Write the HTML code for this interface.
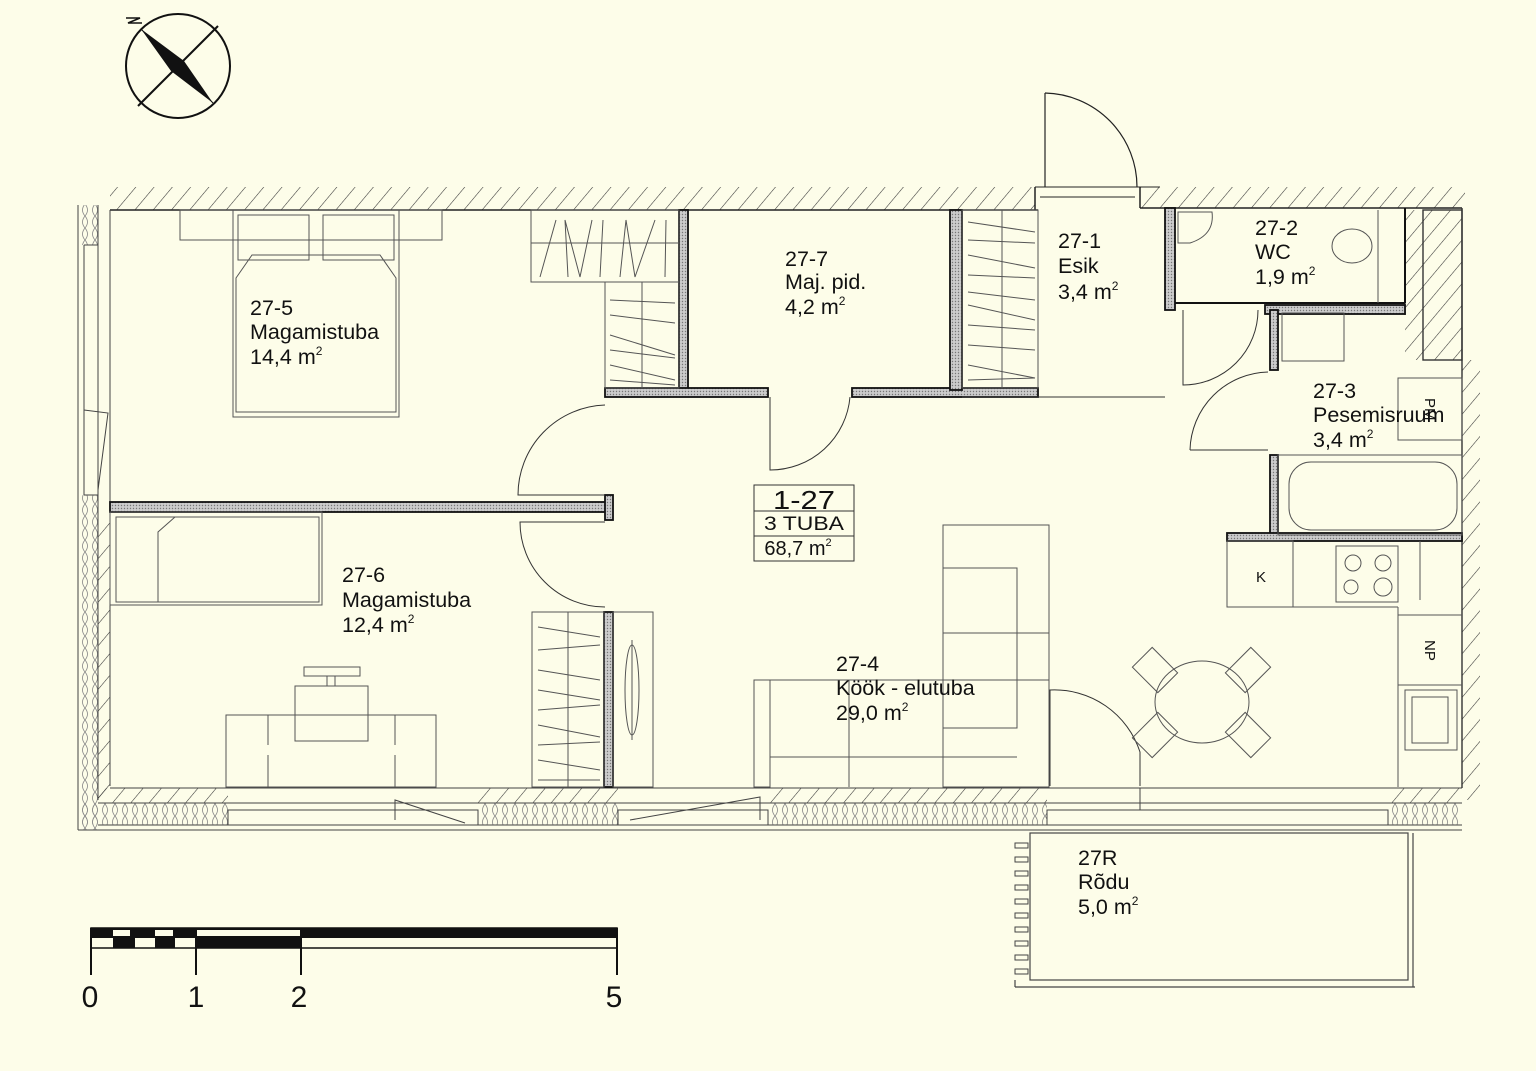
<!DOCTYPE html>
<html><head><meta charset="utf-8"><style>
html,body{margin:0;padding:0;background:#fdfde9;}
svg{display:block}
text{font-family:"Liberation Sans",sans-serif;fill:#111;}
</style></head><body>
<svg width="1536" height="1071" viewBox="0 0 1536 1071" xmlns="http://www.w3.org/2000/svg">
<defs>
<pattern id="h" width="14" height="14" patternUnits="userSpaceOnUse" patternTransform="rotate(40)">
<line x1="0" y1="0" x2="0" y2="14" stroke="#333" stroke-width="1.1"/></pattern>
<pattern id="ins" width="10" height="12" patternUnits="userSpaceOnUse">
<path d="M5 0 Q0 6 5 12 Q10 6 5 0" fill="none" stroke="#888" stroke-width="0.8"/></pattern>
<pattern id="dot" width="3" height="3" patternUnits="userSpaceOnUse"><rect width="3" height="3" fill="#ccc"/><circle cx="1.5" cy="1.5" r="0.7" fill="#777"/></pattern>
</defs>
<rect width="1536" height="1071" fill="#fdfde9"/>

<!-- compass -->
<g stroke="#111" fill="none" stroke-width="2">
<circle cx="178" cy="66" r="52"/>
<line x1="138" y1="106" x2="218" y2="26"/>
<line x1="141" y1="29" x2="213" y2="103" stroke-width="1"/>
</g>
<path d="M141 29 L184 61 L213 103 L171 71 Z" fill="#111"/>
<path d="M126 18 L140 18 L128 23 L142 23" fill="none" stroke="#111" stroke-width="1.5"/>

<!-- top wall -->
<rect x="110" y="187" width="925" height="23" fill="url(#h)"/>
<rect x="1140" y="187" width="325" height="21" fill="url(#h)"/>
<g stroke="#222" stroke-width="1.5" fill="none">
<line x1="110" y1="210" x2="1038" y2="210"/>
<line x1="1140" y1="208" x2="1405" y2="208"/>
<line x1="1405" y1="208" x2="1462" y2="208"/>
<line x1="1035" y1="187" x2="1035" y2="210"/>
<line x1="1140" y1="187" x2="1140" y2="208"/>
<line x1="1035" y1="187" x2="1160" y2="187" stroke-width="1"/>
<line x1="1040" y1="197" x2="1135" y2="197" stroke-width="1"/>
</g>
<g stroke="#222" fill="none" stroke-width="1.2">
<line x1="1045" y1="93" x2="1045" y2="187"/>
<path d="M1045 93 A94 94 0 0 1 1137 187"/>
</g>

<!-- left wall -->
<rect x="80" y="205" width="18" height="40" fill="url(#ins)"/>
<rect x="80" y="495" width="18" height="335" fill="url(#ins)"/>
<rect x="98" y="520" width="12" height="280" fill="url(#h)"/>
<g stroke="#444" stroke-width="1" fill="none">
<line x1="78" y1="205" x2="78" y2="830"/>
<line x1="98" y1="205" x2="98" y2="800"/>
<line x1="110" y1="210" x2="110" y2="786"/>
<line x1="84" y1="245" x2="84" y2="495"/>
<line x1="84" y1="245" x2="98" y2="245"/>
<line x1="84" y1="495" x2="98" y2="495"/>
<path d="M84 410 L108 413 L98 490"/>
</g>

<!-- bottom wall -->
<rect x="98" y="788" width="1364" height="15" fill="url(#h)"/>
<rect x="80" y="803" width="1382" height="22" fill="url(#ins)"/>
<rect x="228" y="788" width="250" height="40" fill="#fdfde9"/>
<rect x="618" y="788" width="150" height="40" fill="#fdfde9"/>
<rect x="1047" y="788" width="341" height="40" fill="#fdfde9"/>
<g stroke="#444" stroke-width="1" fill="none">
<line x1="110" y1="788" x2="1462" y2="788"/>
<line x1="78" y1="830" x2="1462" y2="830"/>
<line x1="98" y1="803" x2="1462" y2="803"/>
<line x1="98" y1="825" x2="1462" y2="825"/>
<rect x="228" y="810" width="250" height="15"/>
<rect x="618" y="810" width="150" height="15"/>
<rect x="1047" y="810" width="341" height="15"/>
<path d="M395 820 L395 800 L465 823"/>
<path d="M630 820 L760 797 L760 820"/>
<line x1="1140" y1="788" x2="1140" y2="810"/>
</g>

<!-- right wall -->
<rect x="1405" y="210" width="57" height="150" fill="url(#h)"/>
<rect x="1462" y="360" width="18" height="440" fill="url(#h)"/>
<g stroke="#333" stroke-width="1.4" fill="none">
<line x1="1462" y1="208" x2="1462" y2="788"/>
<rect x="1423" y="210" width="39" height="150"/>
<line x1="1405" y1="208" x2="1405" y2="315"/>
</g>

<!-- interior walls -->
<g stroke="#111" stroke-width="1.8">
<rect x="679" y="210" width="9" height="180" fill="url(#dot)"/>
<rect x="605" y="388" width="163" height="9" fill="url(#dot)"/>
<rect x="852" y="388" width="186" height="9" fill="url(#dot)"/>
<rect x="950" y="210" width="12" height="180" fill="url(#dot)"/>
<rect x="110" y="502" width="502" height="10" fill="url(#dot)"/>
<rect x="605" y="495" width="8" height="25" fill="url(#dot)"/>
<rect x="604" y="612" width="9" height="175" fill="url(#dot)"/>
<rect x="1165" y="208" width="10" height="102" fill="url(#dot)"/>
<rect x="1265" y="305" width="140" height="9" fill="url(#dot)"/>
<rect x="1270" y="310" width="8" height="60" fill="url(#dot)"/>
<rect x="1270" y="455" width="8" height="82" fill="url(#dot)"/>
<rect x="1227" y="533" width="235" height="8" fill="url(#dot)"/>
</g>
<g stroke="#111" stroke-width="2" fill="none">
<line x1="1175" y1="303" x2="1405" y2="303"/>
<line x1="1405" y1="208" x2="1405" y2="303"/>
</g>

<!-- doors interior -->
<g stroke="#333" stroke-width="1" fill="none">
<path d="M605 405 A90 90 0 0 0 518 495 L605 495"/>
<path d="M605 522 L520 522 A85 85 0 0 0 605 607"/>
<path d="M770 397 L770 470 A80 80 0 0 0 850 397"/>
<path d="M1183 310 L1183 385 A75 75 0 0 0 1258 310"/>
<path d="M1190 450 A80 80 0 0 1 1268 372"/>
<line x1="1190" y1="450" x2="1268" y2="450"/>
<line x1="962" y1="397" x2="1165" y2="397"/>
<path d="M1140 786 L1140 752 A90 90 0 0 0 1050 690 L1050 786"/>
</g>

<!-- furniture -->
<g stroke="#555" stroke-width="1" fill="none">
<rect x="180" y="210" width="262" height="30"/>
<rect x="233" y="210" width="166" height="207"/>
<rect x="238" y="215" width="71" height="45"/>
<rect x="323" y="215" width="71" height="45"/>
<path d="M236 278 L252 255 L380 255 L396 278 L396 412 L236 412 Z"/>
<rect x="531" y="210" width="148" height="72"/>
<line x1="531" y1="243" x2="679" y2="243"/>
<path d="M540 277 L556 220 M568 277 L565 220 L580 277 L592 220 M600 277 L603 220 M620 277 L626 220 L635 277 L655 220 M665 277 L666 220"/>
<rect x="605" y="282" width="74" height="106"/>
<line x1="642" y1="282" x2="642" y2="388"/>
<path d="M610 300 L675 303 M610 315 L675 323 M610 335 L675 355 M610 350 L675 358 M610 365 L675 380 M610 380 L675 385"/>
<rect x="962" y="210" width="76" height="178"/>
<line x1="1002" y1="210" x2="1002" y2="388"/>
<path d="M968 222 L1035 232 M968 240 L1035 243 M968 255 L1035 268 M968 275 L1035 278 M968 292 L1035 300 M968 305 L1035 320 M968 325 L1035 330 M968 345 L1035 350 M968 365 L1035 378 M968 380 L1035 378"/>
<rect x="110" y="512" width="212" height="93"/>
<rect x="116" y="517" width="203" height="85"/>
<path d="M158 602 L158 532 L175 517"/>
<rect x="304" y="667" width="56" height="9"/>
<rect x="327" y="676" width="8" height="10"/>
<rect x="295" y="686" width="73" height="55"/>
<rect x="226" y="715" width="210" height="72"/>
<line x1="268" y1="715" x2="268" y2="745"/><line x1="268" y1="755" x2="268" y2="787"/>
<line x1="395" y1="715" x2="395" y2="745"/><line x1="395" y1="755" x2="395" y2="787"/>
<rect x="532" y="612" width="72" height="175"/>
<line x1="568" y1="612" x2="568" y2="787"/>
<path d="M538 627 L600 637 M538 650 L600 645 M538 670 L600 680 M538 690 L600 700 M538 710 L600 705 M538 725 L600 737 M538 745 L600 742 M538 760 L600 770 M538 780 L600 780"/>
<rect x="613" y="612" width="40" height="175"/>
<ellipse cx="632" cy="690" rx="7" ry="45"/>
<line x1="632" y1="640" x2="632" y2="740"/>
<rect x="943" y="525" width="106" height="262"/>
<rect x="943" y="568" width="74" height="160"/>
<line x1="943" y1="633" x2="1049" y2="633"/>
<line x1="770" y1="680" x2="1049" y2="680"/>
<rect x="754" y="680" width="16" height="107"/>
<line x1="770" y1="757" x2="1017" y2="757"/>
<line x1="849" y1="680" x2="849" y2="787"/>
<ellipse cx="1202" cy="702" rx="47" ry="41"/>
<g transform="translate(1155 670) rotate(45)"><rect x="-18" y="-14" width="36" height="28"/></g>
<g transform="translate(1248 670) rotate(-45)"><rect x="-18" y="-14" width="36" height="28"/></g>
<g transform="translate(1155 735) rotate(-45)"><rect x="-18" y="-14" width="36" height="28"/></g>
<g transform="translate(1248 735) rotate(45)"><rect x="-18" y="-14" width="36" height="28"/></g>
<rect x="1227" y="541" width="66" height="66"/>
<line x1="1227" y1="607" x2="1398" y2="607"/>
<rect x="1336" y="546" width="62" height="56"/>
<circle cx="1353" cy="563" r="8"/><circle cx="1383" cy="563" r="8"/>
<circle cx="1351" cy="587" r="7"/><circle cx="1383" cy="587" r="9"/>
<line x1="1398" y1="607" x2="1398" y2="787"/>
<line x1="1398" y1="685" x2="1462" y2="685"/>
<line x1="1398" y1="615" x2="1462" y2="615"/>
<rect x="1405" y="690" width="52" height="60"/>
<rect x="1412" y="697" width="36" height="46"/>
<line x1="1420" y1="541" x2="1420" y2="600"/>
<path d="M1178 212 L1212 212 Q1215 235 1190 243 L1178 243 Z"/>
<ellipse cx="1352" cy="246" rx="20" ry="17"/>
<line x1="1378" y1="210" x2="1378" y2="303"/>
<rect x="1282" y="313" width="62" height="48"/>
<rect x="1398" y="378" width="64" height="62"/>
<rect x="1278" y="455" width="184" height="80"/>
<rect x="1289" y="462" width="168" height="68" rx="22"/>
</g>

<!-- apartment label -->
<g stroke="#333" stroke-width="1" fill="none">
<rect x="754" y="485" width="100" height="76"/>
<line x1="754" y1="511" x2="854" y2="511"/>
<line x1="754" y1="536" x2="854" y2="536"/>
</g>
<text x="804" y="509" font-size="26" text-anchor="middle" textLength="62" lengthAdjust="spacingAndGlyphs">1-27</text>
<text x="804" y="530" font-size="19" text-anchor="middle" textLength="80" lengthAdjust="spacingAndGlyphs">3 TUBA</text>
<text x="798" y="555" font-size="20" text-anchor="middle">68,7 m<tspan font-size="11" dy="-9">2</tspan></text>

<!-- balcony -->
<g stroke="#444" stroke-width="1.2" fill="none">
<rect x="1030" y="833" width="378" height="147"/>
<line x1="1413" y1="833" x2="1413" y2="987"/>
<line x1="1015" y1="987" x2="1415" y2="987"/>
<line x1="1015" y1="980" x2="1015" y2="987"/>
</g>
<g fill="none" stroke="#444" stroke-width="1">
<rect x="1015" y="843" width="13" height="5"/><rect x="1015" y="857" width="13" height="5"/><rect x="1015" y="871" width="13" height="5"/><rect x="1015" y="885" width="13" height="5"/><rect x="1015" y="899" width="13" height="5"/><rect x="1015" y="913" width="13" height="5"/><rect x="1015" y="927" width="13" height="5"/><rect x="1015" y="941" width="13" height="5"/><rect x="1015" y="955" width="13" height="5"/><rect x="1015" y="969" width="13" height="5"/>
</g>

<!-- room labels -->
<g font-size="21.5">
<text x="250" y="315">27-5</text><text x="250" y="339">Magamistuba</text><text x="250" y="364">14,4  m<tspan font-size="12" dy="-9">2</tspan></text>
<text x="342" y="582">27-6</text><text x="342" y="607">Magamistuba</text><text x="342" y="632">12,4  m<tspan font-size="12" dy="-9">2</tspan></text>
<text x="785" y="266">27-7</text><text x="785" y="289">Maj. pid.</text><text x="785" y="314">4,2  m<tspan font-size="12" dy="-9">2</tspan></text>
<text x="1058" y="248">27-1</text><text x="1058" y="273">Esik</text><text x="1058" y="299">3,4  m<tspan font-size="12" dy="-9">2</tspan></text>
<text x="1255" y="235">27-2</text><text x="1255" y="259">WC</text><text x="1255" y="284">1,9  m<tspan font-size="12" dy="-9">2</tspan></text>
<text x="1313" y="398">27-3</text><text x="1313" y="422">Pesemisruum</text><text x="1313" y="447">3,4  m<tspan font-size="12" dy="-9">2</tspan></text>
<text x="836" y="671">27-4</text><text x="836" y="695">Köök - elutuba</text><text x="836" y="720">29,0  m<tspan font-size="12" dy="-9">2</tspan></text>
<text x="1078" y="865">27R</text><text x="1078" y="889">Rõdu</text><text x="1078" y="914">5,0  m<tspan font-size="12" dy="-9">2</tspan></text>
</g>
<text x="1256" y="582" font-size="15">K</text>
<text transform="translate(1425 640) rotate(90)" font-size="15">NP</text>
<text transform="translate(1425 398) rotate(90)" font-size="15">PM</text>

<!-- scale bar -->
<g>
<rect x="91" y="928" width="526" height="20" fill="#fdfde9" stroke="#111" stroke-width="1.5"/>
<rect x="91" y="928" width="526" height="10" fill="#111"/>
<rect x="113" y="930" width="17" height="6" fill="#fdfde9"/>
<rect x="155" y="930" width="18" height="6" fill="#fdfde9"/>
<rect x="197" y="930" width="104" height="6" fill="#fdfde9"/>
<rect x="113" y="938" width="22" height="10" fill="#111"/>
<rect x="155" y="938" width="20" height="10" fill="#111"/>
<rect x="197" y="938" width="104" height="10" fill="#111"/>
<rect x="93" y="940" width="18" height="6" fill="#fdfde9"/>
<g stroke="#111" stroke-width="2">
<line x1="91" y1="928" x2="91" y2="975"/><line x1="196" y1="928" x2="196" y2="975"/>
<line x1="301" y1="928" x2="301" y2="975"/><line x1="617" y1="928" x2="617" y2="975"/>
</g>
</g>
<g font-size="30" text-anchor="middle">
<text x="90" y="1007">0</text><text x="196" y="1007">1</text><text x="299" y="1007">2</text><text x="614" y="1007">5</text>
</g>
</svg>
</body></html>
